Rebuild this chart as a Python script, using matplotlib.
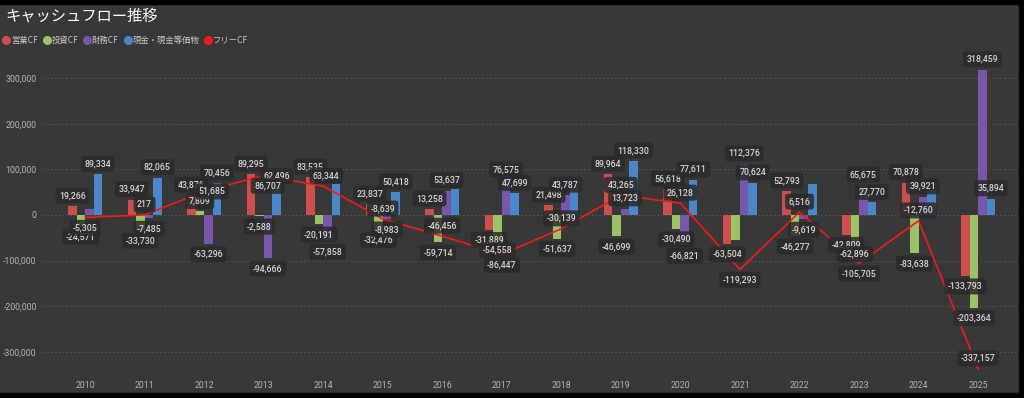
import matplotlib
matplotlib.use("Agg")
import matplotlib.pyplot as plt
from matplotlib.lines import Line2D
from matplotlib.patches import Rectangle
import numpy as np

plt.rcParams['font.family'] = ['Noto Sans CJK JP', 'DejaVu Sans']
NUM_FONT = 'Roboto'

years = [str(y) for y in range(2010, 2026)]

# 営業CF / 投資CF / 財務CF / 現金・現金等価物 / フリーCF
operating = [19266, 33947, 43876, 89295, 83535, 23837, 13258, -31889,
             21498, 89964, 56618, -63504, 52793, -42809, 70878, -133793]
investing = [-24571, -33730, 7809, -2588, -20191, -32476, -59714, -54558,
             -51637, -46699, -30490, -55789, -46277, -62896, -83638, -203364]
financing = [14000, -7485, -63296, -94666, -57858, -8983, 53637, 76575,
             43787, 13723, -66821, 112376, -9619, 65675, 39921, 318459]
cash = [89334, 82065, 70456, 62496, 67982, 50418, 57599, 47699,
        61342, 118330, 77611, 70624, 67521, 27770, 54592, 35894]
free_cf = [-5305, 217, 51685, 86707, 63344, -8639, -46456, -86447,
           -30139, 43265, 26128, -119293, 6516, -105705, -12760, -337157]

series_names = ['営業CF', '投資CF', '財務CF', '現金・現金等価物']
free_name = 'フリーCF'

# labels that the original chart leaves out (year, series index)
hidden = {(0, 2), (4, 3), (6, 3), (8, 3), (11, 1), (12, 3), (14, 3)}
# where the free CF label sits: a = above, b = below, c = on the point
free_pos = ['b', 'a', 'c', 'b', 'a', 'a', 'a', 'b',
            'a', 'a', 'a', 'b', 'a', 'b', 'a', 'a']
free_dx = [0, 0, 8, 4, 3, 0, 0, 0, 0, 0, 0, 0, 0, 0, 0, 0]

colors = ['#CC4F4E', '#9CC268', '#7657AB', '#4B86C8']
line_color = '#F21A1A'
bg = '#383838'
text_col = '#D6D6D6'
tick_col = '#B4B4B4'

fig = plt.figure(figsize=(10.24, 3.98), dpi=100, facecolor=bg)
# black frame bits of the screenshot
fig.patches.append(Rectangle((0, 1 - 4 / 398), 1, 4 / 398, transform=fig.transFigure, color='black', zorder=-1))
fig.patches.append(Rectangle((0, 0), 1, 5 / 398, transform=fig.transFigure, color='black', zorder=-1))
fig.patches.append(Rectangle((1019 / 1024, 0), 5 / 1024, 1, transform=fig.transFigure, color='black', zorder=-1))

ax = fig.add_axes([43 / 1024, 28 / 398, 975 / 1024, 310 / 398])
ax.set_facecolor(bg)

box = dict(boxstyle='round,pad=0.4,rounding_size=0.4', fc='#2B2B2B', ec='none', alpha=0.85)

x = np.arange(len(years))
w = 0.143
data = [operating, investing, financing, cash]
for i, vals in enumerate(data):
    off = (i - 1.5) * w
    ax.bar(x + off, vals, width=w, color=colors[i], zorder=2)
    for j, v in enumerate(vals):
        if (j, i) in hidden:
            continue
        dy = 7.5 if v >= 0 else -7.5
        ax.annotate(f"{v:,}", (x[j] + off, v), xytext=(0, dy), textcoords='offset points',
                    ha='center', va='center', fontsize=6.3, color=text_col, family=NUM_FONT,
                    fontweight='medium', bbox=box, zorder=5)

ax.plot(x, free_cf, color=line_color, lw=1.2, zorder=3)
for j, v in enumerate(free_cf):
    dy = {'a': 7.5, 'b': -7.5, 'c': 0}[free_pos[j]]
    ax.annotate(f"{v:,}", (x[j], v), xytext=(free_dx[j] * 0.72, dy), textcoords='offset points',
                ha='center', va='center', fontsize=6.3, color=text_col, family=NUM_FONT,
                fontweight='medium', bbox=box, zorder=5)

ax.set_xlim(-0.706, 15.67)
ax.set_ylim(-340000, 340000)
ax.set_yticks(np.arange(-300000, 300001, 100000))
ax.yaxis.set_major_formatter(matplotlib.ticker.FuncFormatter(lambda v, p: f"{int(v):,}"))
ax.set_xticks(x)
ax.set_xticklabels(years)
ax.tick_params(axis='both', length=0, colors=tick_col, labelsize=6.3)
ax.tick_params(axis='y', pad=4.5)
ax.tick_params(axis='x', pad=8)
for lab in ax.get_xticklabels() + ax.get_yticklabels():
    lab.set_family(NUM_FONT)
ax.grid(axis='y', color='#5E5E5E', linestyle=(0, (1, 2.5)), linewidth=0.8, zorder=0)
for s in ax.spines.values():
    s.set_visible(False)

fig.text(0.005, 1 - 16 / 398, 'キャッシュフロー推移', color='white', fontsize=11,
         va='center', ha='left')

handles = [Line2D([], [], marker='o', linestyle='none', markersize=5.5, color=c) for c in colors]
handles.append(Line2D([], [], marker='o', linestyle='none', markersize=5.5, color=line_color))
leg = fig.legend(handles, series_names + [free_name], loc='center left',
                 bbox_to_anchor=(0.002, 1 - 40 / 398), ncol=5, frameon=False,
                 fontsize=6, handletextpad=0.05, columnspacing=0.6, handlelength=1.0,
                 borderpad=0, borderaxespad=0)
for t in leg.get_texts():
    t.set_color('#C8C8C8')

fig.savefig('out.png', dpi=100, facecolor=bg)
